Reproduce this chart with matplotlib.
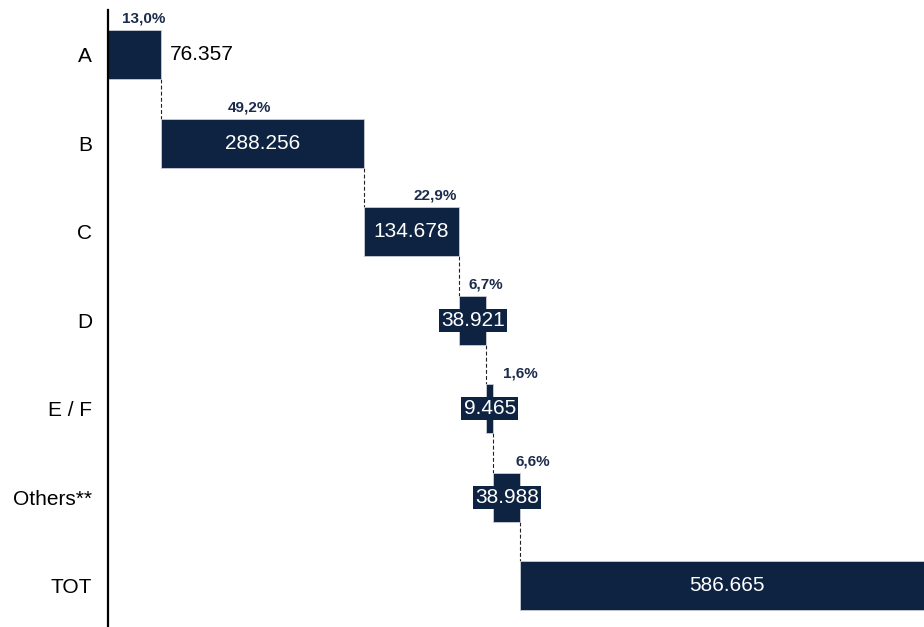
import matplotlib
matplotlib.use("Agg")
import matplotlib.pyplot as plt
import numpy as np

# ---- data ----
categories = ["A", "B", "C", "D", "E / F", "Others**", "TOT"]
values = [76357, 288256, 134678, 38921, 9465, 38988, 586665]
value_labels = ["76.357", "288.256", "134.678", "38.921", "9.465", "38.988", "586.665"]
pct_labels = ["13,0%", "49,2%", "22,9%", "6,7%", "1,6%", "6,6%"]

# ---- layout constants ----
NAVY = "#0E2341"
BAR_H = 0.553
pct_dx_px = [-18, -115, -24, -1, 27, 12]   # percent label offsets from bar end (px)
boxed = [False, False, False, True, True, True, False]
outside = [True, False, False, False, False, False, False]

plt.rcParams["font.family"] = ["Liberation Sans", "DejaVu Sans"]

fig = plt.figure(figsize=(9.24, 6.27), dpi=100)
ax = fig.add_axes([107.5 / 924, 0.0, 1 - 107.5 / 924, 1 - 10.2 / 627])

# bar lefts: waterfall; TOT starts where the cumulative ends (as in reference)
lefts = []
cum = 0
for i, v in enumerate(values):
    lefts.append(cum)
    if i < len(values) - 1:
        cum += v
y = np.arange(len(categories))

ax.barh(y, values, left=lefts, height=BAR_H, color=NAVY,
        edgecolor="#C8CCD4", linewidth=0.6, zorder=2)

# connectors
for i in range(len(values) - 1):
    xe = lefts[i] + values[i]
    ax.plot([xe, xe], [y[i] + BAR_H / 2, y[i + 1] - BAR_H / 2],
            color="#222222", lw=0.8, dashes=(3.5, 2), zorder=1)

# value labels
for i, v in enumerate(values):
    if outside[i]:
        ax.annotate(value_labels[i], (lefts[i] + v, y[i]), xytext=(6, 0),
                    textcoords="offset points", ha="left", va="center",
                    fontsize=15, color="black", zorder=4)
    else:
        kw = {}
        if boxed[i]:
            kw["bbox"] = dict(boxstyle="square,pad=0.1", fc=NAVY, ec="none")
        ax.text(lefts[i] + v / 2, y[i], value_labels[i], ha="center",
                va="center", fontsize=15, color="white", zorder=4, **kw)

# percent labels
for i, p in enumerate(pct_labels):
    xe = lefts[i] + values[i]
    ax.annotate(p, (xe, y[i] - BAR_H / 2), xytext=(pct_dx_px[i] * 0.72, 3),
                textcoords="offset points", ha="center", va="bottom",
                fontsize=11, fontweight="bold", color="#1B2B4B", zorder=4)

ax.set_xlim(0, 1160000)
ax.set_ylim(6.463, -0.5)
ax.set_yticks(y)
ax.set_yticklabels(categories, fontsize=15)
ax.tick_params(axis="y", length=0, pad=11)
ax.set_xticks([])
for s in ["top", "right", "bottom"]:
    ax.spines[s].set_visible(False)
ax.spines["left"].set_linewidth(1.6)
ax.spines["left"].set_color("black")

fig.savefig("out.png", dpi=100)
